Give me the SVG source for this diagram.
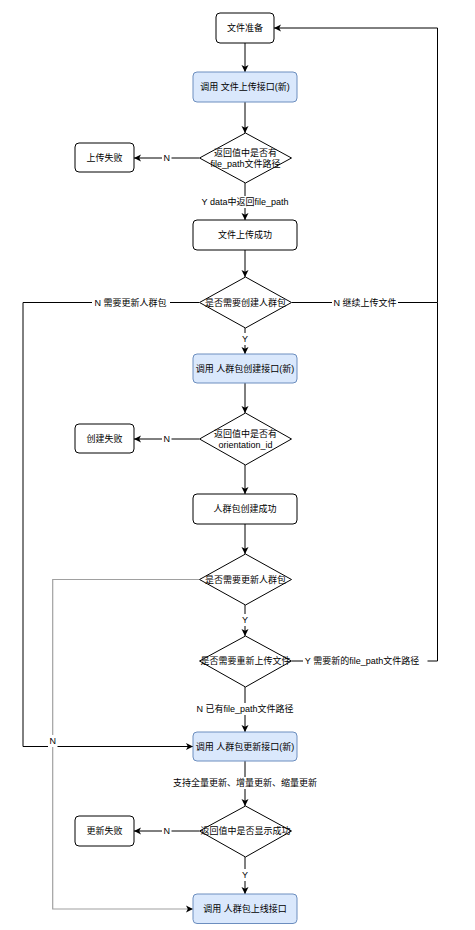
<svg xmlns="http://www.w3.org/2000/svg" width="475" height="930" viewBox="0 0 475 930">
<defs>
<style>
text{font-family:"Liberation Sans","Noto Sans CJK SC",sans-serif;font-size:9px;fill:#000;text-anchor:middle;dominant-baseline:central}
.box{fill:#fff;stroke:#000;stroke-width:1}
.blue{fill:#dae8fc;stroke:#6c8ebf;stroke-width:1}
.dia{fill:#fff;stroke:#000;stroke-width:1}
.e{fill:none;stroke:#000;stroke-width:1;marker-end:url(#arr)}
.eg{fill:none;stroke:#a0a0a0;stroke-width:1.2;marker-end:url(#arr)}
.ln{fill:none;stroke:#000;stroke-width:1}
.lb{fill:#fff;stroke:none}
</style>
<marker id="arr" markerUnits="userSpaceOnUse" markerWidth="8" markerHeight="8" refX="7" refY="4" orient="auto">
<path d="M0,0.5 L7,4 L0,7.5 L1.8,4 Z" fill="#000"/>
</marker>
</defs>

<g id="connectors">
<path class="e" d="M245,43 L245,72"/>
<path class="e" d="M245,102 L245,133"/>
<path class="e" d="M199,158 L134,158"/>
<path class="e" d="M245,183 L245,220"/>
<path class="e" d="M245,250 L245,277"/>
<path class="e" d="M199,302.5 L23,302.5 L23,746.5 L193,746.5"/>
<path class="e" d="M292,302.5 L437.5,302.5 L437.5,28 L274,28"/>
<path class="e" d="M245,328 L245,354"/>
<path class="e" d="M245,383 L245,413"/>
<path class="e" d="M199,439 L134,439"/>
<path class="e" d="M245,465 L245,494"/>
<path class="e" d="M245,524 L245,554"/>
<path class="eg" d="M199,579.5 L52.7,579.5 L52.7,909 L193,909"/>
<path class="e" d="M245,605 L245,636"/>
<path class="ln" d="M292,661 L437.5,661 L437.5,302.5"/>
<path class="e" d="M245,687 L245,732"/>
<path class="e" d="M245,761 L245,806"/>
<path class="e" d="M199,831 L134,831"/>
<path class="e" d="M245,857 L245,894"/>

<rect class="lb" x="162" y="152" width="9.5" height="12"/><text x="166.7" y="158">N</text>
<rect class="lb" x="200" y="196" width="90" height="12"/><text x="245" y="202">Y data中返回file_path</text>
<rect class="lb" x="92" y="296" width="78" height="13"/><text x="130.5" y="302.5">N 需要更新人群包</text>
<rect class="lb" x="332" y="296" width="66" height="13"/><text x="365" y="302.5">N 继续上传文件</text>
<rect class="lb" x="240" y="333" width="10" height="12"/><text x="245" y="339">Y</text>
<rect class="lb" x="162" y="433" width="9.5" height="12"/><text x="166.7" y="439">N</text>
<rect class="lb" x="240" y="614" width="10" height="12"/><text x="245" y="620">Y</text>
<rect class="lb" x="303" y="655" width="124.5" height="12"/><text x="362" y="661">Y 需要新的file_path文件路径</text>
<rect class="lb" x="196" y="703" width="98" height="12"/><text x="245" y="709">N 已有file_path文件路径</text>
<rect class="lb" x="48" y="735" width="9.5" height="12"/><text x="52.7" y="741">N</text>
<rect class="lb" x="173" y="777" width="145" height="12"/><text x="245" y="783">支持全量更新、增量更新、缩量更新</text>
<rect class="lb" x="162" y="825" width="9.5" height="12"/><text x="166.7" y="831">N</text>
<rect class="lb" x="240" y="869" width="10" height="12"/><text x="245" y="875">Y</text>
</g>

<g id="n1"><rect class="box" x="216" y="13" width="58" height="30" rx="4"/><text x="245" y="28">文件准备</text></g>
<g id="n2"><rect class="blue" x="193" y="72" width="104" height="30" rx="4"/><text x="245" y="87">调用 文件上传接口(新)</text></g>
<g id="d1"><path class="dia" d="M245.5,133 L291.5,158 L245.5,183 L199.5,158 Z"/><text x="245.5" y="152.5">返回值中是否有</text><text x="245.5" y="163.5">file_path文件路径</text></g>
<g id="f1"><rect class="box" x="75" y="143" width="59" height="29" rx="4"/><text x="104.5" y="157.5">上传失败</text></g>
<g id="n3"><rect class="box" x="193" y="220" width="104" height="30" rx="4"/><text x="245" y="235">文件上传成功</text></g>
<g id="d2"><path class="dia" d="M245.5,277 L291.5,302.5 L245.5,328 L199.5,302.5 Z"/><text x="245.5" y="302.5">是否需要创建人群包</text></g>
<g id="n4"><rect class="blue" x="193" y="354" width="104" height="29" rx="4"/><text x="245" y="368.5">调用 人群包创建接口(新)</text></g>
<g id="d3"><path class="dia" d="M245.5,413 L291.5,439 L245.5,465 L199.5,439 Z"/><text x="245.5" y="433.5">返回值中是否有</text><text x="245.5" y="444.5">orientation_id</text></g>
<g id="f2"><rect class="box" x="75" y="424" width="59" height="29" rx="4"/><text x="104.5" y="438.5">创建失败</text></g>
<g id="n5"><rect class="box" x="193" y="494" width="104" height="30" rx="4"/><text x="245" y="509">人群包创建成功</text></g>
<g id="d4"><path class="dia" d="M245.5,554 L291.5,579.5 L245.5,605 L199.5,579.5 Z"/><text x="245.5" y="579.5">是否需要更新人群包</text></g>
<g id="d5"><path class="dia" d="M245.5,636 L291.5,661 L245.5,687 L199.5,661 Z"/><text x="245.5" y="661">是否需要重新上传文件</text></g>
<g id="n6"><rect class="blue" x="193" y="732" width="104" height="29" rx="4"/><text x="245" y="746.5">调用 人群包更新接口(新)</text></g>
<g id="d6"><path class="dia" d="M245.5,806 L291.5,831 L245.5,857 L199.5,831 Z"/><text x="245.5" y="831">返回值中是否显示成功</text></g>
<g id="f3"><rect class="box" x="75" y="816" width="59" height="30" rx="4"/><text x="104.5" y="831">更新失败</text></g>
<g id="n7"><rect class="blue" x="193" y="894" width="104" height="29.5" rx="4"/><text x="245" y="909">调用 人群包上线接口</text></g>
</svg>
